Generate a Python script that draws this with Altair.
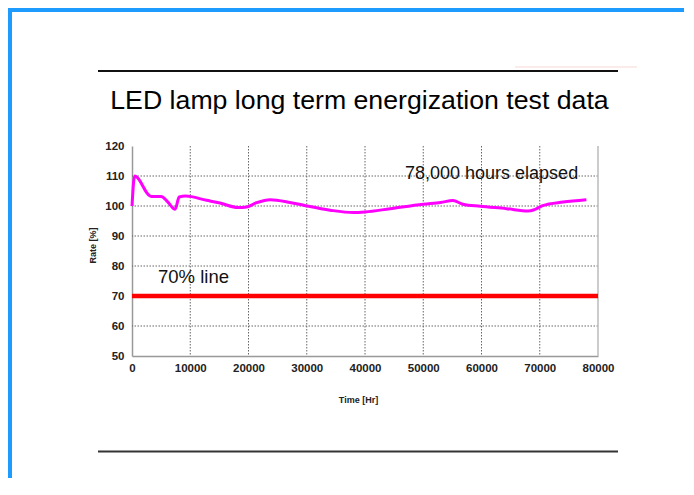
import altair as alt
import pandas as pd

# ---- data ----
time_hr = [0, 450, 3300, 5000, 6200, 7400, 8100, 9200, 12800, 15100, 18200, 19700,
           21400, 23700, 27100, 29800, 34000, 38000, 40000, 44300, 50000, 53000,
           55100, 56800, 59800, 64300, 68000, 69100, 70500, 74000, 78000]
rate_pct = [100, 110, 103.2, 103.2, 101.2, 98.9, 103, 103.3, 101.9, 101, 99.5, 99.7,
            101.1, 102.1, 101.2, 100.1, 98.6, 97.8, 98.0, 99.1, 100.6, 101.2,
            101.8, 100.6, 99.9, 99.1, 98.3, 98.8, 100.1, 101.3, 102.1]
x_ticks = [0, 10000, 20000, 30000, 40000, 50000, 60000, 70000, 80000]
y_ticks = [50, 60, 70, 80, 90, 100, 110, 120]
x_grid = [10000, 20000, 30000, 40000, 50000, 60000, 70000]
y_grid = [60, 70, 80, 90, 100, 110]
threshold = [70]
title_text = "LED lamp long term energization test data"
note_text = "78,000 hours elapsed"
line_text = "70% line"

W, H = 466, 210
FONT = "Liberation Sans"

xs = alt.Scale(domain=[0, 80000], nice=False)
ys = alt.Scale(domain=[50, 120], nice=False)

curve_df = pd.DataFrame({"t": time_hr, "r": rate_pct})
one = pd.DataFrame({"a": [0]})

x_axis = alt.Axis(values=x_ticks, format="d", title="Time [Hr]")
y_axis = alt.Axis(values=y_ticks, format="d", title="Rate [%]")

vgrid = alt.Chart(pd.DataFrame({"g": x_grid})).mark_rule(
    color="#666", strokeDash=[1.5, 1.5], strokeWidth=1).encode(
    x=alt.X("g:Q", scale=xs, axis=x_axis))
hgrid = alt.Chart(pd.DataFrame({"g": y_grid})).mark_rule(
    color="#666", strokeDash=[1.5, 1.5], strokeWidth=1).encode(
    y=alt.Y("g:Q", scale=ys, axis=y_axis))
right_edge = alt.Chart(pd.DataFrame({"g": [80000]})).mark_rule(
    color="#bbb", strokeWidth=1.5).encode(x=alt.X("g:Q", scale=xs, axis=x_axis))

red = alt.Chart(pd.DataFrame({"y": threshold, "x1": [0], "x2": [80000]})).mark_rule(
    color="#FF0000", strokeWidth=4.5).encode(
    y=alt.Y("y:Q", scale=ys, axis=y_axis), x=alt.X("x1:Q", scale=xs, axis=x_axis), x2="x2:Q")

curve = alt.Chart(curve_df).mark_line(
    color="#FF00FF", strokeWidth=3, interpolate="monotone").encode(
    x=alt.X("t:Q", scale=xs, axis=x_axis), y=alt.Y("r:Q", scale=ys, axis=y_axis))

note = alt.Chart(one).mark_text(
    text=note_text, font=FONT, fontSize=18, align="left", baseline="alphabetic",
    color="#111").encode(x=alt.value(273), y=alt.value(32.5))
line_lbl = alt.Chart(one).mark_text(
    text=line_text, font=FONT, fontSize=18.5, align="left", baseline="alphabetic",
    color="#111").encode(x=alt.value(26), y=alt.value(136.5))
title = alt.Chart(one).mark_text(
    text=title_text, font=FONT, fontSize=26.7, align="center", baseline="alphabetic",
    color="#000").encode(x=alt.value(227.5), y=alt.value(-37.5))

top_line = alt.Chart(one).mark_rule(color="#111", strokeWidth=2).encode(
    x=alt.value(-34), x2=alt.value(486), y=alt.value(-75))
pink_line = alt.Chart(one).mark_rule(color="#fbe4e4", strokeWidth=1.5).encode(
    x=alt.value(383), x2=alt.value(505), y=alt.value(-79))
bottom_line = alt.Chart(one).mark_rule(color="#333", strokeWidth=2).encode(
    x=alt.value(-34), x2=alt.value(486), y=alt.value(305.5))
blue_left = alt.Chart(one).mark_rule(color="#1E9BFF", strokeWidth=4).encode(
    x=alt.value(-122), y=alt.value(-138), y2=alt.value(340))
blue_top = alt.Chart(one).mark_rule(color="#1E9BFF", strokeWidth=4).encode(
    y=alt.value(-136), x=alt.value(-124), x2=alt.value(560))

chart = alt.layer(
    vgrid, hgrid, right_edge, red, curve, note, line_lbl, title,
    top_line, pink_line, bottom_line, blue_left, blue_top
).properties(
    width=W, height=H,
    autosize=alt.AutoSizeParams(type="none"),
    padding={"left": 124, "top": 138, "right": 86, "bottom": 122},
    background="white",
).configure_view(stroke=None).configure_axisX(
    grid=False, ticks=False, tickSize=0, labelPadding=6, labelFont=FONT,
    labelFontSize=11.5, labelFontWeight="bold", labelColor="#222",
    domainColor="#999", domainWidth=1.5, labelOverlap=False, labelFlush=False,
    titleFont=FONT, titleFontSize=9, titleFontWeight="bold", titleColor="#222",
    titleX=226, titleY=43, titleBaseline="middle", titleAlign="center",
).configure_axisY(
    grid=False, ticks=False, tickSize=0, labelPadding=8, labelFont=FONT,
    labelFontSize=11.5, labelFontWeight="bold", labelColor="#222",
    domainColor="#999", domainWidth=1.5, labelOverlap=False, labelFlush=False,
    titleFont=FONT, titleFontSize=9, titleFontWeight="bold", titleColor="#222",
    titleX=-40, titleY=99, titleAngle=-90, titleBaseline="middle", titleAlign="center",
)

chart.save("out.html", embed_options={"renderer": "svg", "actions": False})
